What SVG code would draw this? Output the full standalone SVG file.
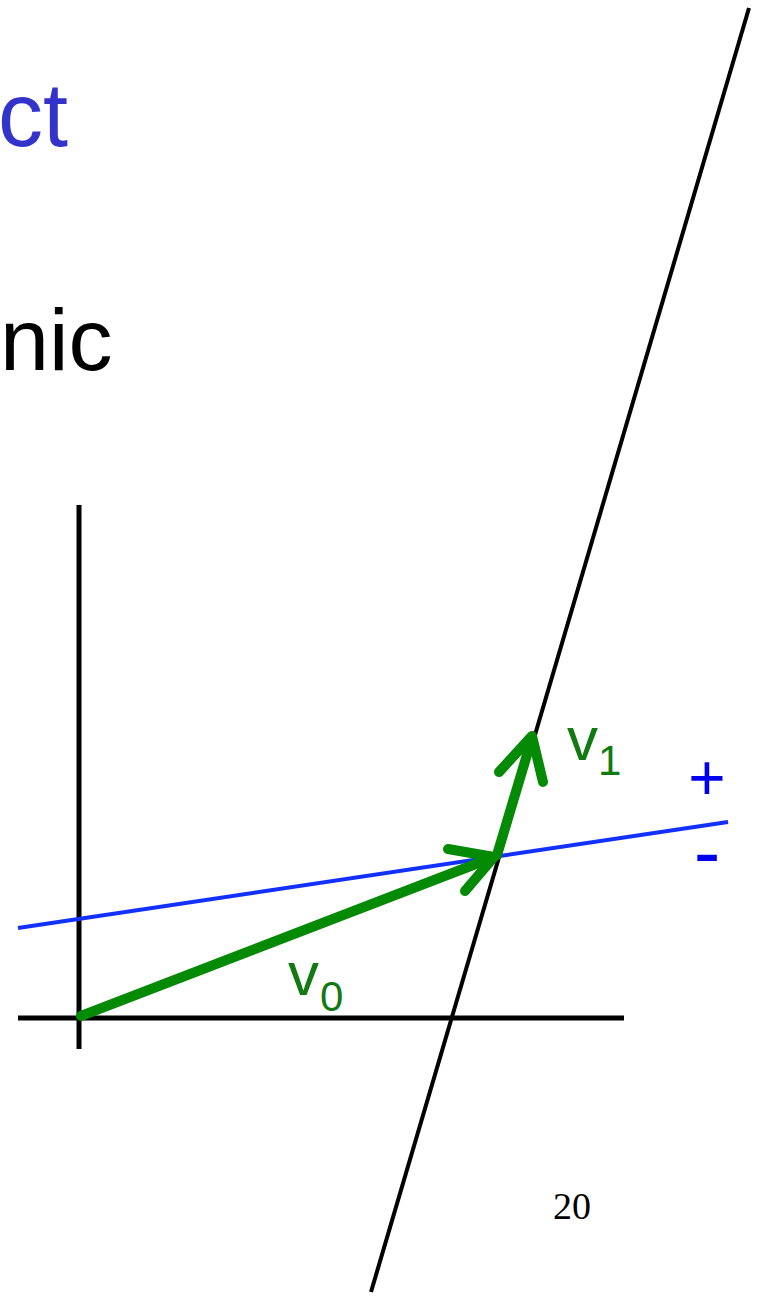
<svg xmlns="http://www.w3.org/2000/svg" width="764" height="1298" viewBox="0 0 764 1298">
<style>
.sans{font-family:"Liberation Sans",Arial,sans-serif}
.blk{stroke:#000;fill:none;stroke-linecap:butt}
.grn{stroke:#058a05;fill:none;stroke-width:10;stroke-linecap:round;stroke-linejoin:round}
.lbl{fill:#117a11}
</style>
<rect width="764" height="1298" fill="#fff"/>
<text class="sans" x="68" y="146" font-size="90" fill="#3333cc" text-anchor="end">ct</text>
<text class="sans" x="0" y="370" font-size="88" fill="#000">nic</text>
<g id="connectors">
<line class="blk" x1="749" y1="8" x2="371" y2="1292" stroke-width="4"/>
<line class="blk" x1="79" y1="505" x2="79" y2="1049" stroke-width="5"/>
<line class="blk" x1="18" y1="1018" x2="624" y2="1018" stroke-width="5"/>
<line x1="18" y1="928" x2="728" y2="822" stroke="#1230ff" stroke-width="4"/>
<g id="v0">
<line class="grn" x1="81" y1="1016" x2="494" y2="857"/>
<polyline class="grn" points="448,849 494,857 465,891"/>
</g>
<g id="v1">
<line class="grn" x1="497" y1="855" x2="532" y2="738"/>
<polyline class="grn" points="499,772 532,736 543,782"/>
</g>
</g>
<g id="labels">
<text class="sans lbl" x="567" y="760" font-size="62">v</text>
<text class="sans lbl" x="598" y="775" font-size="42">1</text>
<text class="sans lbl" x="288" y="995" font-size="62">v</text>
<text class="sans lbl" x="320" y="1011" font-size="42">0</text>
<text class="sans" x="707" y="800" font-size="64" fill="#0000ee" text-anchor="middle">+</text>
<text class="sans" x="707" y="879" font-size="80" fill="#0000ee" text-anchor="middle">-</text>
</g>
<text x="553" y="1219" font-size="38" font-family="'Liberation Serif','Times New Roman',serif" fill="#000">20</text>
</svg>
